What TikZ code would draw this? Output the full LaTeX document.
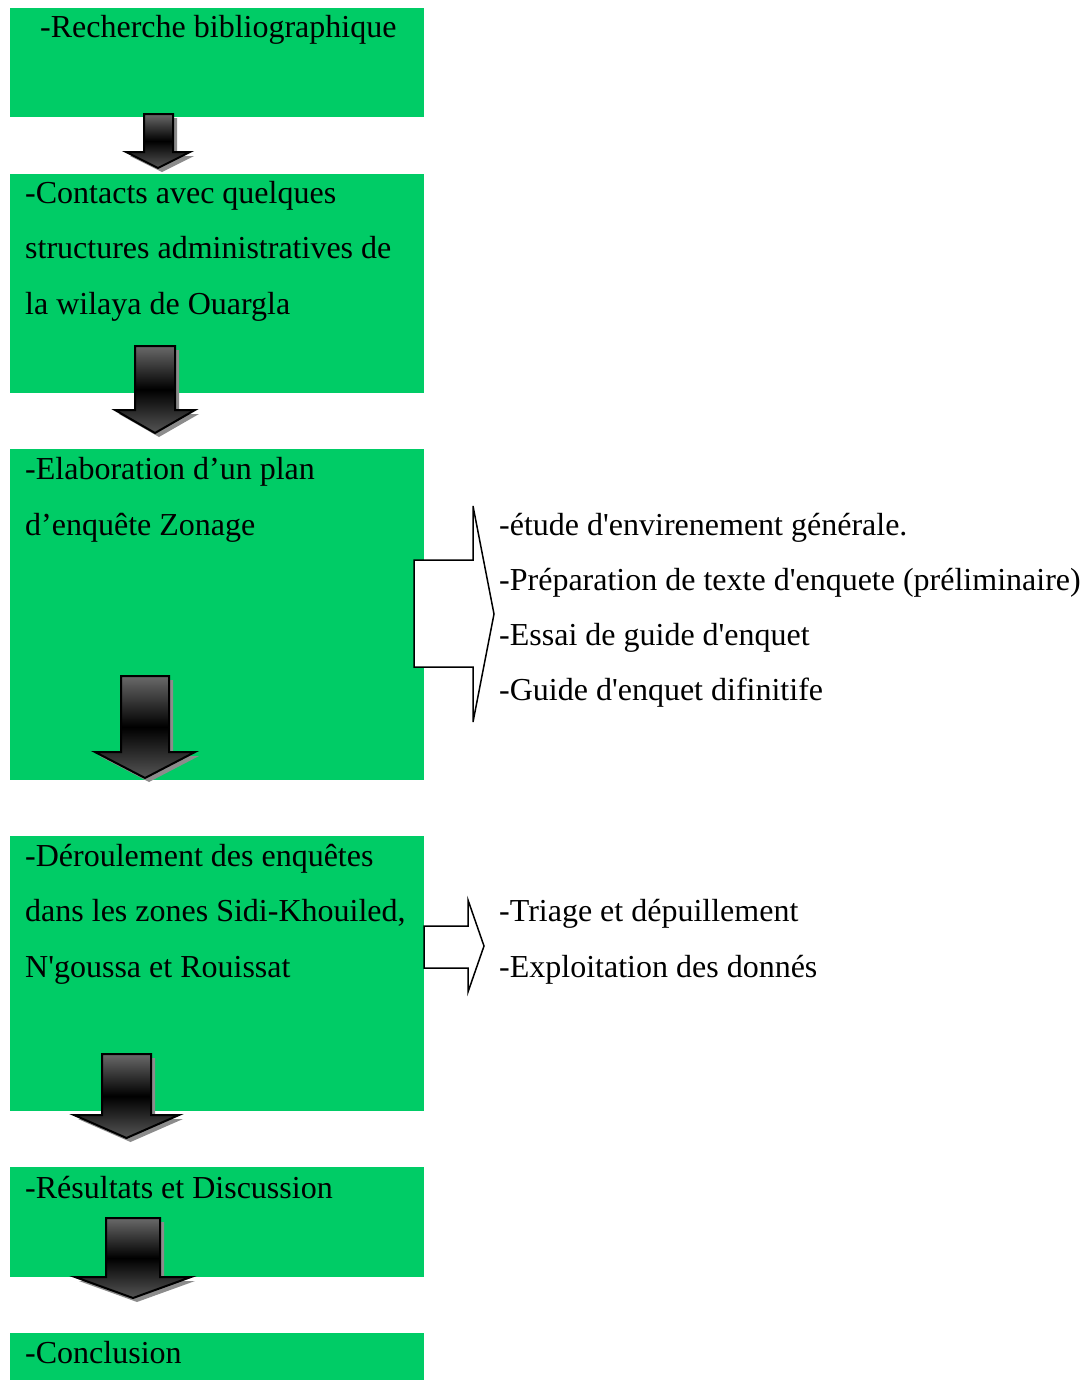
\documentclass[tikz,border=0pt]{standalone}
\usepackage{fontspec}
\newfontfamily\lib{Liberation Serif}
\definecolor{boxgreen}{RGB}{0,204,102}
\definecolor{arrtop}{RGB}{105,105,105}
\definecolor{arrbot}{RGB}{85,85,85}
\tikzset{
  box/.style={fill=boxgreen, draw=none, anchor=north west, minimum width=414pt, inner sep=0pt},
  txt/.style={anchor=base west, inner sep=0pt, font=\lib\fontsize{32}{38}\selectfont},
  shadowarr/.style={fill=black!45, draw=none},
  downarr/.style={draw=black, line width=2pt, line join=miter, top color=arrtop, bottom color=arrbot, middle color=black},
  rightarr/.style={draw=black, line width=1.5pt, fill=white, line join=miter}
}
% #1 shaft left, #2 shaft right, #3 top, #4 head base, #5 head left, #6 head right, #7 tip
\newcommand\blockdown[7]{%
  \fill[shadowarr] ({#1+4},{#3+4}) -- ({#2+4},{#3+4}) -- ({#2+4},{#4+4}) -- ({#6+4},{#4+4}) -- ({(#5+#6)/2+4},{#7+4}) -- ({#5+4},{#4+4}) -- ({#1+4},{#4+4}) -- cycle;
  \path[downarr] (#1,#3) -- (#2,#3) -- (#2,#4) -- (#6,#4) -- ({(#5+#6)/2},#7) -- (#5,#4) -- (#1,#4) -- cycle;
}
\begin{document}
\begin{tikzpicture}[x=1pt,y=-1pt]
\useasboundingbox[fill=white] (0,0) rectangle (1086,1381);
% boxes
\node[box, minimum height=109pt] (b1) at (10,8) {};
\node[box, minimum height=219pt] (b2) at (10,174) {};
\node[box, minimum height=331pt] (b3) at (10,449) {};
\node[box, minimum height=275pt] (b4) at (10,836) {};
\node[box, minimum height=110pt] (b5) at (10,1167) {};
\node[box, minimum height=47pt] (b6) at (10,1333) {};
% box texts
\node[txt] (t1) at (40,38) {-Recherche bibliographique};
\node[txt] (t2a) at (25,203) {-Contacts avec quelques};
\node[txt] (t2b) at (25,258) {structures administratives de};
\node[txt] (t2c) at (25,314) {la wilaya de Ouargla};
\node[txt] (t3a) at (25,479) {-Elaboration d’un plan};
\node[txt] (t3b) at (25,535) {d’enquête Zonage};
\node[txt] (t4a) at (25,866) {-Déroulement des enquêtes};
\node[txt] (t4b) at (25,921) {dans les zones Sidi-Khouiled,};
\node[txt] (t4c) at (25,977) {N'goussa et Rouissat};
\node[txt] (t5) at (25,1198) {-Résultats et Discussion};
\node[txt] (t6) at (25,1363) {-Conclusion};
% right texts
\node[txt] (r1) at (499,535) {-étude d'envirenement générale.};
\node[txt] (r2) at (499,590) {-Préparation de texte d'enquete (préliminaire)};
\node[txt] (r3) at (499,645) {-Essai de guide d'enquet};
\node[txt] (r4) at (499,700) {-Guide d'enquet difinitife};
\node[txt] (r5) at (499,921) {-Triage et dépuillement};
\node[txt] (r6) at (499,977) {-Exploitation des donnés};
% down block arrows
\blockdown{144}{173}{114}{152}{126}{190}{168}
\blockdown{135}{175}{346}{410}{115}{195}{433}
\blockdown{121}{169}{676}{752}{95}{195}{778}
\blockdown{102}{151}{1054}{1115}{74}{179}{1138}
\blockdown{106}{160}{1218}{1277}{75}{191}{1298}
% right block arrows
\path[rightarr] (414,560) -- (473,560) -- (473,506) -- (494,614) -- (473,722) -- (473,667) -- (414,667) -- cycle;
\path[rightarr] (424,926) -- (468,926) -- (468,900) -- (484,946) -- (468,992) -- (468,968) -- (424,968) -- cycle;
\end{tikzpicture}
\end{document}
